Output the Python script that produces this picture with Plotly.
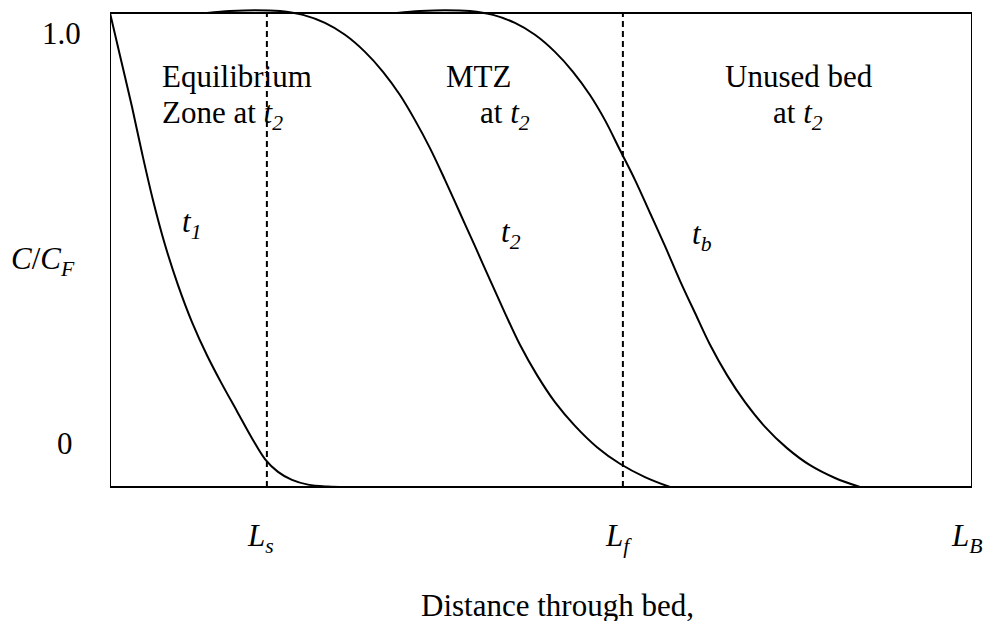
import plotly.graph_objects as go

# Breakthrough (concentration) profiles along an adsorbent bed.
# x: distance through bed as % of bed length L_B; y: C/C_F.
t1_x = [0.0, 1.28, 2.55, 3.71, 4.99, 6.38, 7.89, 9.51, 11.25, 12.99, 14.73, 16.47,
        17.98, 19.49, 21.11, 22.97, 25.29, 27.26]
t1_y = [1.0, 0.901, 0.802, 0.705, 0.605, 0.511, 0.426, 0.348, 0.278, 0.217, 0.160, 0.103,
        0.059, 0.032, 0.015, 0.005, 0.001, 0.0]

t2_x = [11.25, 13.92, 16.82, 19.72, 22.39, 24.94, 27.26, 29.58, 31.67, 33.64, 35.38, 37.12,
        38.86, 40.60, 42.34, 44.08, 45.82, 47.56, 49.54, 51.62, 53.94, 56.50, 59.16, 62.06, 64.97]
t2_y = [1.0, 1.004, 1.006, 1.004, 0.996, 0.979, 0.954, 0.918, 0.876, 0.827, 0.774, 0.715,
        0.648, 0.578, 0.508, 0.437, 0.367, 0.300, 0.236, 0.179, 0.129, 0.084, 0.049, 0.021, 0.0]

tb_x = [33.29, 35.96, 38.86, 41.76, 44.43, 46.98, 49.30, 51.62, 53.71, 55.68, 57.42, 59.16,
        60.90, 62.65, 64.39, 66.13, 67.87, 69.61, 71.58, 73.67, 75.99, 78.54, 81.21, 84.11, 87.01]
tb_y = [1.0, 1.004, 1.006, 1.004, 0.996, 0.979, 0.954, 0.918, 0.876, 0.827, 0.774, 0.711,
        0.648, 0.578, 0.508, 0.435, 0.367, 0.300, 0.236, 0.179, 0.127, 0.082, 0.046, 0.019, 0.0]

# Zone boundaries at t2
L_s = 18.2
L_f = 59.5

# Plot-area geometry (pixels)
W, H = 987, 621
PL, PR, PT, PB = 110, 15, 3, 124
PW = W - PL - PR
PH = H - PT - PB
Y_PAD = 10 / 474.0


def paper(px, py):
    return (px - PL) / PW, (PT + PH - py) / PH


FONT = dict(family="Liberation Serif", size=31, color="black")

fig = go.Figure()

line_style = dict(color="black", width=2, shape="spline", smoothing=1.0)
for xs, ys in [(t1_x, t1_y), (t2_x, t2_y), (tb_x, tb_y)]:
    fig.add_trace(go.Scatter(x=xs, y=ys, mode="lines", line=line_style,
                             hoverinfo="skip", showlegend=False))

for xv in [L_s, L_f]:
    fig.add_trace(go.Scatter(x=[xv, xv], y=[0, 1], mode="lines",
                             line=dict(color="black", width=2, dash="6px,4px"),
                             hoverinfo="skip", showlegend=False))

# Frame of the plot
fig.add_shape(type="rect", xref="x", yref="y", x0=0, x1=100, y0=0, y1=1,
              line=dict(color="black", width=2), layer="above")

labels = [
    ("1.0", 61, 34, "center"),
    ("0", 65, 443, "center"),
    ("<i>C</i>/<i>C</i><sub><i>F</i></sub>", 43, 261, "center"),
    ("Equilibrium", 160, 76, "left"),
    ("Zone at <i>t</i><sub><i>2</i></sub>", 160, 115, "left"),
    ("MTZ", 478, 76, "center"),
    ("at <i>t</i><sub><i>2</i></sub>", 505, 115, "center"),
    ("Unused bed", 799, 76, "center"),
    ("at <i>t</i><sub><i>2</i></sub>", 798, 115, "center"),
    ("<i>t</i><sub><i>1</i></sub>", 191, 224, "center"),
    ("<i>t</i><sub><i>2</i></sub>", 511, 234, "center"),
    ("<i>t</i><sub><i>b</i></sub>", 702, 236, "center"),
    ("<i>L</i><sub><i>s</i></sub>", 260, 538, "center"),
    ("<i>L</i><sub><i>f</i></sub>", 618, 538, "center"),
    ("<i>L</i><sub><i>B</i></sub>", 967, 538, "center"),
    ("Distance through bed,", 557, 605, "center"),
]
for text, px, py, anchor in labels:
    xp, yp = paper(px, py)
    fig.add_annotation(text=text, x=xp, y=yp, xref="paper", yref="paper",
                       xanchor=anchor, yanchor="middle", showarrow=False, font=FONT)

fig.update_xaxes(range=[0, 100], visible=False, showgrid=False, zeroline=False)
fig.update_yaxes(range=[-Y_PAD, 1 + Y_PAD], visible=False, showgrid=False, zeroline=False)

fig.update_layout(
    width=W, height=H,
    margin=dict(l=PL, r=PR, t=PT, b=PB, pad=0),
    paper_bgcolor="white", plot_bgcolor="white",
    showlegend=False,
)

fig.write_html("out.html")
